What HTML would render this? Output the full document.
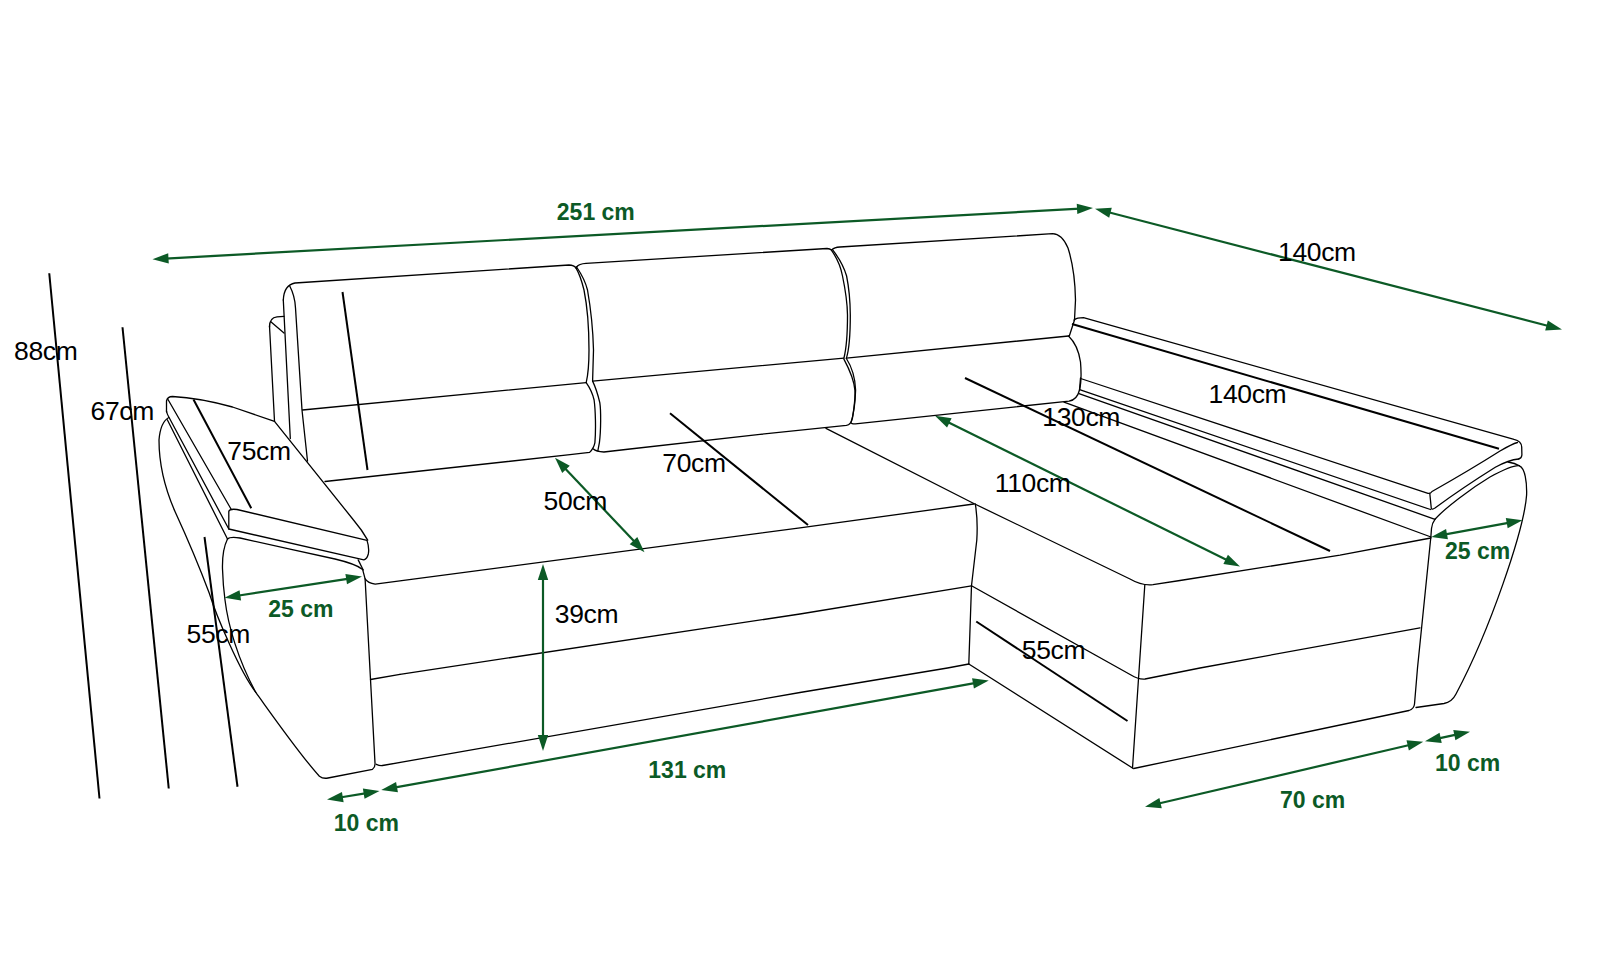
<!DOCTYPE html>
<html><head><meta charset="utf-8"><style>
html,body{margin:0;padding:0;background:#fff;}
body{width:1600px;height:956px;overflow:hidden;font-family:"Liberation Sans",sans-serif;}
svg{display:block;}
</style></head><body>
<svg width="1600" height="956" viewBox="0 0 1600 956">
<rect width="1600" height="956" fill="#fff"/>
<line x1="49.25" y1="273.25" x2="99.5" y2="798.5" stroke="#000" stroke-width="2.0"/>
<line x1="122.5" y1="327.25" x2="168.75" y2="788.5" stroke="#000" stroke-width="2.0"/>
<line x1="204.5" y1="537" x2="237.5" y2="786.75" stroke="#000" stroke-width="2.0"/>
<line x1="193.5" y1="399.5" x2="251.25" y2="508.25" stroke="#000" stroke-width="2.0"/>
<line x1="342.5" y1="292" x2="367.5" y2="470" stroke="#000" stroke-width="2.0"/>
<line x1="670" y1="413.25" x2="808" y2="525" stroke="#000" stroke-width="2.0"/>
<line x1="965" y1="378" x2="1330" y2="551" stroke="#000" stroke-width="2.0"/>
<line x1="1072" y1="324" x2="1499" y2="448.8" stroke="#000" stroke-width="2.0"/>
<line x1="976.25" y1="621.5" x2="1127.5" y2="721" stroke="#000" stroke-width="2.0"/>
<path d="M269.5,327 Q269.5,317.5 277,316.8 L284,316.3" fill="none" stroke="#000" stroke-width="1.3" stroke-linejoin="round" stroke-linecap="round"/>
<path d="M270.5,321.5 L284,333" fill="none" stroke="#000" stroke-width="1.3" stroke-linejoin="round" stroke-linecap="round"/>
<path d="M269.5,326 L274.5,421.3" fill="none" stroke="#000" stroke-width="1.3" stroke-linejoin="round" stroke-linecap="round"/>
<path d="M283.3,300 Q284,285 295,283 L569,265 Q574,265 576.5,268.5" fill="none" stroke="#000" stroke-width="1.3" stroke-linejoin="round" stroke-linecap="round"/>
<path d="M283.3,300 L290.3,438.5" fill="none" stroke="#000" stroke-width="1.3" stroke-linejoin="round" stroke-linecap="round"/>
<path d="M289.5,285.5 Q295,296 295.5,308 L302,410 L307.5,461" fill="none" stroke="#000" stroke-width="1.3" stroke-linejoin="round" stroke-linecap="round"/>
<path d="M575.8,267.7 C579,273 582,282 584,290 C587,305 589,330 589,350 C589,365 588,375 586.2,382.6" fill="none" stroke="#000" stroke-width="1.3" stroke-linejoin="round" stroke-linecap="round"/>
<path d="M302.5,410 L586.2,382.6" fill="none" stroke="#000" stroke-width="1.3" stroke-linejoin="round" stroke-linecap="round"/>
<path d="M586.2,382.6 C590,388 593,395 594.1,400 C595.5,410 596,430 594.9,442.6 Q594,448 589.6,452.4 L570,454.7 L325,481.5" fill="none" stroke="#000" stroke-width="1.3" stroke-linejoin="round" stroke-linecap="round"/>
<path d="M576.6,267 Q579,263.8 586,263.4 L827,248.5 Q830,248.8 831.2,249.8" fill="none" stroke="#000" stroke-width="1.3" stroke-linejoin="round" stroke-linecap="round"/>
<path d="M576.6,267 C580,272 585,280 587.5,290 C591,310 593,330 593.5,350 L592.6,381.1" fill="none" stroke="#000" stroke-width="1.3" stroke-linejoin="round" stroke-linecap="round"/>
<path d="M831.2,249.8 C837,258 841,268 842.5,276 C845,288 847.3,300 847.5,315 C847.5,335 846,350 843.9,358.1" fill="none" stroke="#000" stroke-width="1.3" stroke-linejoin="round" stroke-linecap="round"/>
<path d="M592.6,381.1 L843.9,358.1" fill="none" stroke="#000" stroke-width="1.3" stroke-linejoin="round" stroke-linecap="round"/>
<path d="M592.6,381.1 C595,386 598,395 599.8,402.6 C601,410 601,430 599.4,442.6 L597.9,450.5" fill="none" stroke="#000" stroke-width="1.3" stroke-linejoin="round" stroke-linecap="round"/>
<path d="M593.4,449 Q596,451.5 603.9,452 L630,449 L760,434.4 L846.4,425.4 Q851,424.5 852.4,418.3 Q855.5,400 854.9,390.2 Q854,378 843.9,359.1" fill="none" stroke="#000" stroke-width="1.3" stroke-linejoin="round" stroke-linecap="round"/>
<path d="M832.3,249.4 Q834,247.5 840,247 L1052.5,233.7 Q1062,234 1068,248 Q1075,270 1075.5,300 L1074.5,320 L1069.3,336" fill="none" stroke="#000" stroke-width="1.3" stroke-linejoin="round" stroke-linecap="round"/>
<path d="M832.3,249.4 C839,258 844,267 846.6,276 C849,288 850.2,300 850.3,315 C850.3,335 849,350 846.4,358.1" fill="none" stroke="#000" stroke-width="1.3" stroke-linejoin="round" stroke-linecap="round"/>
<path d="M846.4,358.1 L1068.5,336" fill="none" stroke="#000" stroke-width="1.3" stroke-linejoin="round" stroke-linecap="round"/>
<path d="M1068.5,336 Q1078,345 1080.5,362 Q1082,380 1079.5,390 Q1077,400 1069,401.1 L855.4,423.9 Q851,424 851,422.4 Q855,410 855.6,390 Q855,372 846.4,358.5" fill="none" stroke="#000" stroke-width="1.3" stroke-linejoin="round" stroke-linecap="round"/>
<path d="M1074,320 Q1077,317.7 1083.5,317.7 L1514,439.3 Q1521.5,441 1521.7,447 L1521.9,455 Q1521.5,458.5 1518.7,459" fill="none" stroke="#000" stroke-width="1.3" stroke-linejoin="round" stroke-linecap="round"/>
<path d="M1080.6,378.5 L1428,493.3 Q1430.5,493.8 1432,491.5 Q1470,470 1500,451 Q1512,444 1517.5,442.5" fill="none" stroke="#000" stroke-width="1.3" stroke-linejoin="round" stroke-linecap="round"/>
<path d="M1429.8,493.5 L1431.3,508.5 Q1432,510 1435,508 C1450,497 1475,480 1495.3,467.3 C1503,463 1512,459.5 1518.7,459" fill="none" stroke="#000" stroke-width="1.3" stroke-linejoin="round" stroke-linecap="round"/>
<path d="M1079.6,389.6 L1430.5,509.5" fill="none" stroke="#000" stroke-width="1.3" stroke-linejoin="round" stroke-linecap="round"/>
<path d="M1079,393.6 L1435,519.3 C1445,508 1470,489 1490,477 C1505,469 1514,465 1519.4,465.8 C1525,468 1527,482 1526.6,495 C1524,530 1490,630 1456,694 Q1452,702 1444,703.5 L1416,707.5" fill="none" stroke="#000" stroke-width="1.3" stroke-linejoin="round" stroke-linecap="round"/>
<path d="M1508,462 Q1515,463 1519.4,465.8" fill="none" stroke="#000" stroke-width="1.3" stroke-linejoin="round" stroke-linecap="round"/>
<path d="M1064,402.1 L1431,537" fill="none" stroke="#000" stroke-width="1.3" stroke-linejoin="round" stroke-linecap="round"/>
<path d="M1435,519.3 Q1432,523 1431.5,528.5 L1430.8,537.5 L1417.5,668 L1414.5,704 Q1414,709 1409,710.5 L1133.7,768.5" fill="none" stroke="#000" stroke-width="1.3" stroke-linejoin="round" stroke-linecap="round"/>
<path d="M1080.5,378 L1079.5,390" fill="none" stroke="#000" stroke-width="1.3" stroke-linejoin="round" stroke-linecap="round"/>
<path d="M274.5,421.3 L353.5,520 Q362,530 367.7,540.1" fill="none" stroke="#000" stroke-width="1.3" stroke-linejoin="round" stroke-linecap="round"/>
<path d="M365.1,578.8 Q368,583 375.2,584.2 L800,527.8 L973.8,504" fill="none" stroke="#000" stroke-width="1.3" stroke-linejoin="round" stroke-linecap="round"/>
<path d="M826,428.4 L973.8,503.5 L1130,579 Q1142,586 1153,584.7 L1180,580.5 L1340,555.2 L1430.8,538" fill="none" stroke="#000" stroke-width="1.3" stroke-linejoin="round" stroke-linecap="round"/>
<path d="M975.3,504 Q978,520 976.8,540 L971.5,585.8 L968.8,664" fill="none" stroke="#000" stroke-width="1.3" stroke-linejoin="round" stroke-linecap="round"/>
<path d="M400,674.3 L800,614 L971.5,585.8" fill="none" stroke="#000" stroke-width="1.3" stroke-linejoin="round" stroke-linecap="round"/>
<path d="M370.5,679.5 L400,674.3" fill="none" stroke="#000" stroke-width="1.3" stroke-linejoin="round" stroke-linecap="round"/>
<path d="M971.5,585.8 L1131,675 Q1138,679.5 1145,679 L1200,668 L1420,627.8" fill="none" stroke="#000" stroke-width="1.3" stroke-linejoin="round" stroke-linecap="round"/>
<path d="M1144.8,585 L1132.5,768" fill="none" stroke="#000" stroke-width="1.3" stroke-linejoin="round" stroke-linecap="round"/>
<path d="M376.3,764.3 Q380,766 382.5,765.5 L800,692.5 L947.5,668 L968.8,664" fill="none" stroke="#000" stroke-width="1.3" stroke-linejoin="round" stroke-linecap="round"/>
<path d="M968.8,664 L1132.5,768" fill="none" stroke="#000" stroke-width="1.3" stroke-linejoin="round" stroke-linecap="round"/>
<path d="M166.5,412 L166.5,401 Q167.5,396.5 172.5,396.5 Q200,398 232.5,407 L274.5,421.3" fill="none" stroke="#000" stroke-width="1.3" stroke-linejoin="round" stroke-linecap="round"/>
<path d="M168,399.5 L231,509" fill="none" stroke="#000" stroke-width="1.3" stroke-linejoin="round" stroke-linecap="round"/>
<path d="M166.5,411 Q167,414 168.8,417 L228.8,529" fill="none" stroke="#000" stroke-width="1.3" stroke-linejoin="round" stroke-linecap="round"/>
<path d="M228.8,511.5 Q229.5,508.5 237,509.5 L367,540.4 Q369.5,548 368.3,554 Q367,559 363.9,559.9 L228.8,529 Z" fill="none" stroke="#000" stroke-width="1.3" stroke-linejoin="round" stroke-linecap="round"/>
<path d="M168.8,417.5 Q160.5,422 159,440 Q159,475 175,511.5 Q195,555 209.3,593.3 C216,615 240,672 255.8,692.4 C270,712 300,755 319.4,776.2 Q323,779 328,778 L372.5,769.3 Q375.5,767 375,763 L367.3,620 L365.1,578.8 L362.6,569.4" fill="none" stroke="#000" stroke-width="1.3" stroke-linejoin="round" stroke-linecap="round"/>
<path d="M167.3,419.8 L227.5,539" fill="none" stroke="#000" stroke-width="1.3" stroke-linejoin="round" stroke-linecap="round"/>
<path d="M227.5,539 Q230,536.5 240,538 L290,549.2 L335,559 Q356,564 362.6,569.4" fill="none" stroke="#000" stroke-width="1.3" stroke-linejoin="round" stroke-linecap="round"/>
<path d="M358.2,559.9 L363.2,570" fill="none" stroke="#000" stroke-width="1.3" stroke-linejoin="round" stroke-linecap="round"/>
<path d="M227.5,539 Q222,550 222.5,569 Q223,585 225,600 C228,625 238,660 255.8,692.4" fill="none" stroke="#000" stroke-width="1.3" stroke-linejoin="round" stroke-linecap="round"/>
<polygon points="152.50,259.25 168.19,253.19 168.76,263.57" fill="#0c5a26"/>
<polygon points="1093.00,208.00 1077.31,214.06 1076.74,203.68" fill="#0c5a26"/>
<line x1="165.48" y1="258.54" x2="1080.02" y2="208.71" stroke="#0c5a26" stroke-width="2.2"/>
<polygon points="1095.00,208.75 1111.79,207.72 1109.19,217.79" fill="#0c5a26"/>
<polygon points="1562.00,329.50 1545.21,330.53 1547.81,320.46" fill="#0c5a26"/>
<line x1="1107.59" y1="212.00" x2="1549.41" y2="326.25" stroke="#0c5a26" stroke-width="2.2"/>
<polygon points="224.50,597.75 239.52,590.18 241.10,600.46" fill="#0c5a26"/>
<polygon points="362.00,576.60 346.98,584.17 345.40,573.89" fill="#0c5a26"/>
<line x1="237.35" y1="595.77" x2="349.15" y2="578.58" stroke="#0c5a26" stroke-width="2.2"/>
<polygon points="327.00,799.60 341.95,791.88 343.63,802.15" fill="#0c5a26"/>
<polygon points="379.50,791.00 364.55,798.72 362.87,788.45" fill="#0c5a26"/>
<line x1="339.83" y1="797.50" x2="366.67" y2="793.10" stroke="#0c5a26" stroke-width="2.2"/>
<polygon points="381.25,790.00 396.07,782.04 397.92,792.28" fill="#0c5a26"/>
<polygon points="988.75,680.50 973.93,688.46 972.08,678.22" fill="#0c5a26"/>
<line x1="394.04" y1="787.69" x2="975.96" y2="682.81" stroke="#0c5a26" stroke-width="2.2"/>
<polygon points="555.00,457.75 569.78,465.79 562.23,472.94" fill="#0c5a26"/>
<polygon points="644.50,552.25 629.72,544.21 637.27,537.06" fill="#0c5a26"/>
<line x1="563.94" y1="467.19" x2="635.56" y2="542.81" stroke="#0c5a26" stroke-width="2.2"/>
<polygon points="543.00,564.00 548.20,580.00 537.80,580.00" fill="#0c5a26"/>
<polygon points="543.00,751.00 537.80,735.00 548.20,735.00" fill="#0c5a26"/>
<line x1="543.00" y1="577.00" x2="543.00" y2="738.00" stroke="#0c5a26" stroke-width="2.2"/>
<polygon points="935.00,415.75 951.65,418.18 947.04,427.50" fill="#0c5a26"/>
<polygon points="1240.00,566.50 1223.35,564.07 1227.96,554.75" fill="#0c5a26"/>
<line x1="946.65" y1="421.51" x2="1228.35" y2="560.74" stroke="#0c5a26" stroke-width="2.2"/>
<polygon points="1431.25,537.00 1446.05,529.00 1447.93,539.23" fill="#0c5a26"/>
<polygon points="1522.50,520.25 1507.70,528.25 1505.82,518.02" fill="#0c5a26"/>
<line x1="1444.04" y1="534.65" x2="1509.71" y2="522.60" stroke="#0c5a26" stroke-width="2.2"/>
<polygon points="1145.00,806.75 1159.40,798.05 1161.76,808.17" fill="#0c5a26"/>
<polygon points="1423.25,741.75 1408.85,750.45 1406.49,740.33" fill="#0c5a26"/>
<line x1="1157.66" y1="803.79" x2="1410.59" y2="744.71" stroke="#0c5a26" stroke-width="2.2"/>
<polygon points="1425.00,741.25 1439.58,732.86 1441.73,743.03" fill="#0c5a26"/>
<polygon points="1470.00,731.75 1455.42,740.14 1453.27,729.97" fill="#0c5a26"/>
<line x1="1437.72" y1="738.56" x2="1457.28" y2="734.44" stroke="#0c5a26" stroke-width="2.2"/>
<text x="14.0" y="360" font-family="Liberation Sans" font-size="26.5" letter-spacing="-0.35" fill="#000">88cm</text>
<text x="90.5" y="420" font-family="Liberation Sans" font-size="26.5" letter-spacing="-0.35" fill="#000">67cm</text>
<text x="227.25" y="460.25" font-family="Liberation Sans" font-size="26.5" letter-spacing="-0.35" fill="#000">75cm</text>
<text x="186.5" y="642.75" font-family="Liberation Sans" font-size="26.5" letter-spacing="-0.35" fill="#000">55cm</text>
<text x="543.5" y="510.25" font-family="Liberation Sans" font-size="26.5" letter-spacing="-0.35" fill="#000">50cm</text>
<text x="662.25" y="472" font-family="Liberation Sans" font-size="26.5" letter-spacing="-0.35" fill="#000">70cm</text>
<text x="554.75" y="622.75" font-family="Liberation Sans" font-size="26.5" letter-spacing="-0.35" fill="#000">39cm</text>
<text x="1042.25" y="426.25" font-family="Liberation Sans" font-size="26.5" letter-spacing="-0.35" fill="#000">130cm</text>
<text x="994.75" y="492" font-family="Liberation Sans" font-size="26.5" letter-spacing="-0.35" fill="#000">110cm</text>
<text x="1021.75" y="659" font-family="Liberation Sans" font-size="26.5" letter-spacing="-0.35" fill="#000">55cm</text>
<text x="1278.0" y="261.25" font-family="Liberation Sans" font-size="26.5" letter-spacing="-0.35" fill="#000">140cm</text>
<text x="1208.5" y="403" font-family="Liberation Sans" font-size="26.5" letter-spacing="-0.35" fill="#000">140cm</text>
<text x="556.8" y="220" font-family="Liberation Sans" font-weight="bold" font-size="23" fill="#0c5a26">251 cm</text>
<text x="268.3" y="616.5" font-family="Liberation Sans" font-weight="bold" font-size="23" fill="#0c5a26">25 cm</text>
<text x="333.8" y="830.5" font-family="Liberation Sans" font-weight="bold" font-size="23" fill="#0c5a26">10 cm</text>
<text x="648.3" y="778" font-family="Liberation Sans" font-weight="bold" font-size="23" fill="#0c5a26">131 cm</text>
<text x="1445.05" y="559" font-family="Liberation Sans" font-weight="bold" font-size="23" fill="#0c5a26">25 cm</text>
<text x="1280.05" y="807.5" font-family="Liberation Sans" font-weight="bold" font-size="23" fill="#0c5a26">70 cm</text>
<text x="1435.05" y="770.5" font-family="Liberation Sans" font-weight="bold" font-size="23" fill="#0c5a26">10 cm</text>
</svg>
</body></html>
